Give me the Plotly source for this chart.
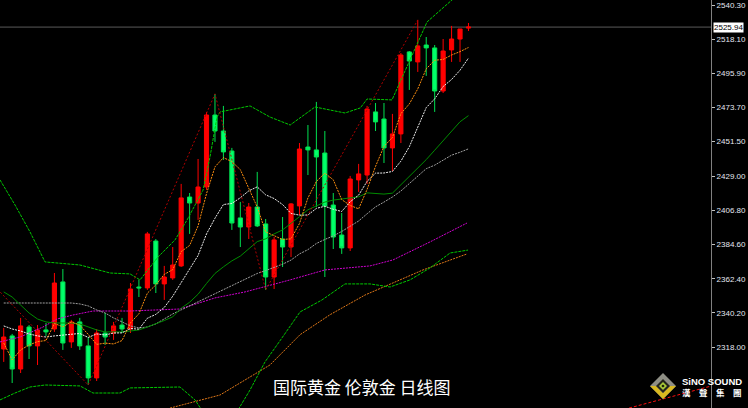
import plotly.graph_objects as go

# ---------------- data ----------------
candle_idx = list(range(56))
opens = [2316.7, 2325.2, 2303.7, 2331.0, 2318.7, 2329.1, 2329.7, 2360.3, 2321.3, 2334.3,
         2318.7, 2297.9, 2327.1, 2327.1, 2332.3, 2329.7, 2357.0, 2356.4, 2386.9, 2359.0,
         2362.9, 2370.7, 2415.5, 2411.6, 2422.0, 2468.8, 2458.4, 2445.4, 2401.9, 2396.0,
         2409.0, 2398.0, 2363.5, 2388.2, 2383.0, 2409.7, 2448.0, 2446.1, 2444.1, 2410.3,
         2390.8, 2382.4, 2426.6, 2429.8, 2470.8, 2466.2, 2447.4, 2456.5, 2509.8, 2503.3,
         2514.3, 2512.4, 2484.4, 2511.1, 2518.2, 2525.3]
highs = [2330.4, 2326.5, 2336.9, 2332.3, 2332.3, 2333.6, 2366.1, 2368.7, 2335.6, 2336.9,
         2324.5, 2329.7, 2340.1, 2334.3, 2336.9, 2359.6, 2361.6, 2392.8, 2388.2, 2370.7,
         2383.0, 2424.0, 2418.1, 2440.2, 2470.8, 2482.5, 2474.7, 2447.4, 2412.3, 2411.6,
         2431.8, 2401.2, 2389.5, 2402.5, 2411.6, 2450.6, 2462.3, 2477.3, 2458.4, 2418.1,
         2405.1, 2429.2, 2437.0, 2474.7, 2476.6, 2476.6, 2469.5, 2509.1, 2510.4, 2530.6,
         2519.5, 2514.3, 2518.2, 2526.7, 2524.7, 2528.6]
lows = [2308.3, 2294.6, 2301.1, 2310.2, 2306.3, 2325.2, 2327.8, 2316.1, 2317.4, 2316.1,
        2293.3, 2295.9, 2319.3, 2322.6, 2327.1, 2327.1, 2350.5, 2355.1, 2353.1, 2348.6,
        2361.6, 2370.0, 2391.5, 2400.6, 2420.1, 2451.3, 2439.6, 2394.1, 2383.0, 2388.2,
        2396.0, 2355.1, 2355.7, 2370.0, 2376.5, 2403.8, 2429.8, 2409.0, 2363.5, 2381.7,
        2378.5, 2380.4, 2418.8, 2424.0, 2458.4, 2437.6, 2432.4, 2450.6, 2485.1, 2496.8,
        2494.2, 2470.8, 2483.1, 2503.3, 2503.3, 2523.4]
closes = [2324.5, 2303.7, 2331.7, 2318.7, 2329.1, 2327.8, 2359.6, 2320.6, 2334.3, 2318.7,
          2297.9, 2327.1, 2324.5, 2331.7, 2329.7, 2355.7, 2356.4, 2391.5, 2359.0, 2363.5,
          2371.3, 2414.9, 2411.6, 2422.0, 2468.8, 2458.4, 2444.8, 2398.6, 2396.0, 2409.0,
          2396.7, 2363.5, 2387.6, 2383.0, 2411.0, 2446.7, 2446.1, 2441.5, 2409.7, 2389.5,
          2382.4, 2427.2, 2430.5, 2472.7, 2464.3, 2447.4, 2456.5, 2507.8, 2503.9, 2513.7,
          2512.4, 2484.4, 2510.4, 2518.2, 2524.7, 2525.94]

ma5 = [2320.6, 2309.6, 2316.1, 2319.3, 2321.5, 2322.2, 2333.3, 2331.1, 2334.3, 2332.2,
       2326.2, 2319.7, 2320.5, 2320.0, 2322.2, 2333.7, 2339.6, 2353.0, 2358.4, 2365.2,
       2368.3, 2380.0, 2384.0, 2396.7, 2417.7, 2435.1, 2441.1, 2438.5, 2433.3, 2421.4,
       2409.0, 2392.8, 2390.5, 2387.9, 2388.3, 2398.3, 2414.9, 2425.6, 2431.0, 2426.7,
       2413.8, 2410.0, 2407.8, 2420.4, 2435.4, 2448.4, 2454.2, 2469.7, 2476.0, 2485.8,
       2498.8, 2504.4, 2504.9, 2507.8, 2510.0, 2512.7]
ma10 = [2331.7, 2329.7, 2328.4, 2326.5, 2325.2, 2324.5, 2325.2, 2325.8, 2326.5, 2326.8,
        2324.2, 2326.5, 2325.8, 2327.1, 2327.2, 2330.0, 2329.6, 2336.7, 2339.2, 2343.7,
        2351.0, 2359.8, 2368.5, 2377.5, 2391.5, 2401.7, 2410.6, 2411.3, 2415.0, 2419.5,
        2422.1, 2416.9, 2414.5, 2410.6, 2404.8, 2403.7, 2403.8, 2408.1, 2409.5, 2407.5,
        2406.1, 2412.4, 2416.7, 2425.7, 2431.0, 2431.1, 2432.1, 2438.8, 2448.2, 2460.6,
        2473.6, 2479.3, 2487.3, 2491.9, 2497.9, 2505.8]
ma20 = [2353.8, 2350.5, 2345.3, 2340.1, 2336.2, 2334.3, 2333.6, 2333.6, 2333.6, 2333.0,
        2331.0, 2329.1, 2327.8, 2327.8, 2327.8, 2328.4, 2329.1, 2331.0, 2333.0, 2335.2,
        2337.6, 2343.2, 2347.1, 2352.3, 2359.3, 2365.8, 2370.1, 2374.0, 2377.1, 2381.6,
        2386.5, 2388.3, 2391.5, 2394.1, 2398.1, 2402.7, 2407.2, 2409.7, 2412.2, 2413.5,
        2414.1, 2414.7, 2415.6, 2418.2, 2417.9, 2417.4, 2418.0, 2423.4, 2428.8, 2434.0,
        2439.8, 2445.9, 2452.0, 2458.8, 2464.4, 2468.4]
ma30 = [2346.6, 2346.6, 2346.6, 2346.6, 2346.6, 2346.6, 2346.6, 2346.6, 2346.6, 2346.0,
        2344.7, 2342.1, 2340.1, 2336.9, 2334.3, 2331.7, 2330.4, 2331.0, 2333.0, 2336.2,
        2339.5, 2342.1, 2344.7, 2347.3, 2349.9, 2352.5, 2355.1, 2357.7, 2360.6, 2363.4,
        2365.8, 2367.7, 2369.6, 2371.8, 2374.5, 2378.5, 2381.3, 2385.3, 2387.9, 2390.2,
        2393.1, 2396.4, 2399.9, 2404.6, 2409.1, 2412.2, 2415.5, 2419.4, 2424.2, 2429.2,
        2433.9, 2436.2, 2439.6, 2442.7, 2444.6, 2446.8]

bb_up_x = [-0.44, 1.34, 3.11, 4.89, 9.03, 12.58, 14.95, 16.13, 18.26, 20.27,
           21.69, 23.59, 24.41, 25.24, 25.6, 29.15, 31.5, 33.9, 36.84, 40.39,
           42.2, 43.0, 45.95, 50.1, 53.05, 54.95]
bb_up = [2426.6, 2410.3, 2392.8, 2373.3, 2371.3, 2366.1, 2365.5, 2361.6, 2376.5, 2387.6,
         2400.5, 2420.0, 2441.5, 2467.5, 2470.8, 2474.7, 2467.5, 2462.3, 2474.0, 2470.1,
         2473.4, 2479.2, 2478.6, 2529.3, 2543.6, 2551.4]
bb_lo_x = [-0.44, 1.34, 3.11, 4.89, 9.03, 10.57, 13.76, 14.95, 20.86, 22.64,
           23.82, 27.37, 29.15, 30.92, 32.93, 35.07, 37.67, 40.39, 43.35, 45.72,
           48.08, 50.45, 52.82, 54.95]
bb_lo = [2283.6, 2288.1, 2292.0, 2293.3, 2292.7, 2288.1, 2288.1, 2291.4, 2292.0, 2283.6,
         2273.8, 2273.8, 2290.1, 2308.3, 2323.9, 2340.8, 2348.6, 2359.0, 2359.0, 2357.0,
         2361.6, 2369.4, 2379.1, 2381.0]
ma60_x = [-0.44, 1.93, 4.65, 6.31, 8.2, 10.57, 14.95, 20.86, 25.0, 28.56,
          33.88, 38.02, 43.35, 46.07, 50.45, 54.83]
ma60 = [2321.3, 2324.5, 2331.0, 2336.2, 2338.8, 2341.4, 2341.4, 2342.7, 2349.9, 2353.8,
        2361.6, 2368.1, 2370.7, 2374.6, 2386.3, 2398.6]
ma120_x = [19.68, 25.6, 31.5, 35.07, 38.62, 42.76, 49.62, 54.0, 54.83]
ma120 = [2278.3, 2286.8, 2306.3, 2326.0, 2339.0, 2351.8, 2368.1, 2376.5, 2378.5]

zigzag_x = [-3, 10, 25, 31, 49]
zigzag = [2368.7, 2293.3, 2482.5, 2355.1, 2530.6]
trend_x = [74.0, 83.7]
trend = [2278.3, 2292.6]

tick_vals = [2318.00, 2340.20, 2362.40, 2384.60, 2406.80, 2429.00,
             2451.50, 2473.70, 2495.90, 2518.10, 2540.30]
tick_text = ["2318.00", "2340.20", "2362.40", "2384.60", "2406.80", "2429.00",
             "2451.50", "2473.70", "2495.90", "2518.10", "2540.30"]
title_text = "国际黄金 伦敦金 日线图"
logo_en = "SiNO SOUND"
logo_cn = "漢　聲　集　團"

# ---------------- figure ----------------
fig = go.Figure()


def add_line(x, y, color, dash="solid", width=1):
    fig.add_trace(go.Scatter(x=x, y=y, mode="lines",
                             line=dict(color=color, width=width, dash=dash),
                             hoverinfo="skip", showlegend=False))


add_line(ma120_x, ma120, "#E07818", "2px,1px")
add_line(ma60_x, ma60, "#D000D0", "2px,1px")
add_line(bb_lo_x, bb_lo, "#00C800", "3px,1px")
add_line(bb_up_x, bb_up, "#00C800", "3px,1px")
add_line(candle_idx, ma30, "#A0A0A0", "2px,1px")
add_line(candle_idx, ma20, "#008C00", "solid")
add_line(candle_idx, ma10, "#F0F0F0", "2px,1px")
add_line(zigzag_x, zigzag, "#B00000", "2px,2px")
add_line(trend_x, trend, "#FF1010", "3px,2px")

fig.add_trace(go.Candlestick(
    x=candle_idx, open=opens, high=highs, low=lows, close=closes,
    increasing=dict(line=dict(color="#FF0000", width=1), fillcolor="#FF0000"),
    decreasing=dict(line=dict(color="#00E050", width=1), fillcolor="#00FF6A"),
    whiskerwidth=0, hoverinfo="skip", showlegend=False))

add_line(candle_idx, ma5, "#FF9010", "2px,1px")

last = closes[-1]
fig.add_shape(type="line", xref="paper", x0=0, x1=1, yref="y", y0=last, y1=last,
              line=dict(color="#5a5a5a", width=1), layer="below")

fig.add_annotation(xref="paper", x=1, xanchor="left", xshift=2, yref="y", y=last,
                   text=f"{last:.2f}", showarrow=False, bgcolor="#FFFFFF",
                   font=dict(family="Liberation Sans", size=8, color="#000000"),
                   borderpad=0)

# bottom caption
fig.add_annotation(xref="paper", x=362 / 711, yref="paper", y=(408 - 386) / 408,
                   text=title_text, showarrow=False, xanchor="center", yanchor="middle",
                   font=dict(family="Noto Sans CJK SC", size=17, color="#FFFFFF"))

# logo
def px(xp):
    return xp / 711


def py(yp):
    return (408 - yp) / 408


def diamond(cx, cy, r):
    return (f"M {px(cx)},{py(cy - r)} L {px(cx + r)},{py(cy)} "
            f"L {px(cx)},{py(cy + r)} L {px(cx - r)},{py(cy)} Z")


fig.add_shape(type="path", xref="paper", yref="paper", path=diamond(663, 386, 13),
              fillcolor="#8e8e84", line=dict(width=0), layer="above")
fig.add_shape(type="path", xref="paper", yref="paper",
              path=(f"M {px(650)},{py(386)} L {px(663)},{py(399)} L {px(676)},{py(386)} "
                    f"L {px(670)},{py(386)} L {px(663)},{py(393)} L {px(656)},{py(386)} Z"),
              fillcolor="#d8b820", line=dict(width=0), layer="above")
fig.add_shape(type="path", xref="paper", yref="paper", path=diamond(663, 386, 7),
              fillcolor="#24241a", line=dict(width=0), layer="above")
fig.add_shape(type="path", xref="paper", yref="paper", path=diamond(663, 386, 4),
              fillcolor="#a8c838", line=dict(width=0), layer="above")
fig.add_shape(type="path", xref="paper", yref="paper", path=diamond(663, 386, 1.6),
              fillcolor="#101008", line=dict(width=0), layer="above")

fig.add_annotation(xref="paper", x=px(680), xanchor="left", yref="paper", y=py(381),
                   yanchor="middle", text=f"<b>{logo_en}</b>", showarrow=False,
                   font=dict(family="Liberation Sans", size=9.5, color="#FFFFFF"))
fig.add_annotation(xref="paper", x=px(680), xanchor="left", yref="paper", y=py(392),
                   yanchor="middle", text=f"<b>{logo_cn}</b>", showarrow=False,
                   font=dict(family="Noto Sans CJK TC", size=8.5, color="#FFFFFF"))

fig.update_layout(
    width=748, height=408,
    margin=dict(l=0, r=37, t=0, b=0),
    paper_bgcolor="#000000", plot_bgcolor="#000000",
    showlegend=False,
    xaxis=dict(range=[-0.44, 83.7], showgrid=False, zeroline=False,
               showticklabels=False, ticks="", rangeslider=dict(visible=False),
               showline=False, fixedrange=True),
    yaxis=dict(range=[2278.35, 2543.55], side="right", showgrid=False, zeroline=False,
               tickvals=tick_vals, ticktext=tick_text, ticks="outside", ticklen=3,
               tickcolor="#C0C0C0", showline=True, linecolor="#808080", linewidth=1,
               tickfont=dict(family="Liberation Sans", size=8, color="#E4E6F0"),
               fixedrange=True),
)

fig.write_html("out.html", config={"displayModeBar": False},
               post_script="document.body.style.margin='0px';"
                           "document.body.style.background='#000000';")
